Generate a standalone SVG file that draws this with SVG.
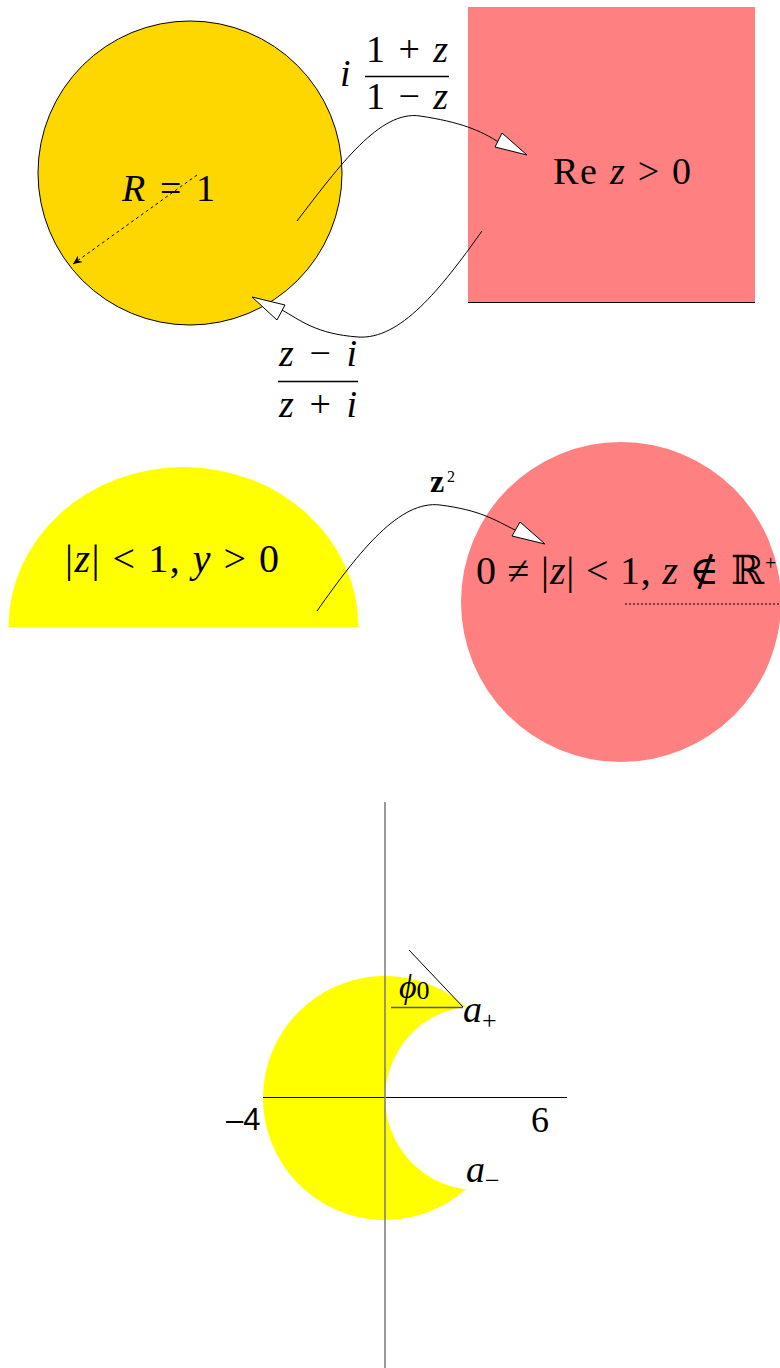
<svg xmlns="http://www.w3.org/2000/svg" width="780" height="1368" viewBox="0 0 780 1368">
<style>
.m{font-family:"Liberation Serif","DejaVu Serif",serif;fill:#000}
.i{font-style:italic}
.c{fill:none;stroke:#000;stroke-width:1}
.h{fill:#fff;stroke:#000;stroke-width:1}
</style>
<defs>
<marker id="sm" markerWidth="10" markerHeight="8" refX="9" refY="4" orient="auto" markerUnits="userSpaceOnUse">
<path d="M0,0 L9,4 L0,8 L3,4 Z" fill="#000"/>
</marker>
</defs>
<rect width="780" height="1368" fill="#fff"/>

<g id="disk">
<circle cx="190" cy="173" r="152" fill="#FFD700" stroke="#000" stroke-width="1"/>
<text class="m" x="122" y="201" font-size="38" textLength="93" lengthAdjust="spacing"><tspan class="i">R</tspan> = 1</text>
<line x1="197" y1="175" x2="73" y2="264" stroke="#000" stroke-width="1" stroke-dasharray="3,3" marker-end="url(#sm)"/>
</g>

<g id="halfplane">
<rect x="468" y="7" width="287" height="295" fill="#FF8080"/>
<line x1="468" y1="302.5" x2="755" y2="302.5" stroke="#000" stroke-width="1"/>
<text class="m" x="553" y="184" font-size="38" textLength="138" lengthAdjust="spacing">Re <tspan class="i">z</tspan> &gt; 0</text>
</g>

<g id="halfdisk">
<path d="M8.5,627 A175,160 0 0,1 358.5,627 Z" fill="#FFFF00"/>
<text class="m" x="65" y="572" font-size="40" textLength="214" lengthAdjust="spacing">|<tspan class="i">z</tspan>| &lt; 1, <tspan class="i">y</tspan> &gt; 0</text>
</g>

<g id="slitdisk">
<circle cx="621" cy="602" r="160" fill="#FF8080"/>
<line x1="625" y1="604" x2="780" y2="604" stroke="#000" stroke-width="1.2" stroke-dasharray="2,2"/>
<text class="m" x="476" y="584" font-size="40" textLength="288" lengthAdjust="spacing">0 ≠ |<tspan class="i">z</tspan>| &lt; 1, <tspan class="i">z</tspan> ∉ ℝ</text>
<text class="m" x="765" y="570" font-size="20">+</text>
</g>

<g id="crescent">
<path d="M465.9,1006.7 A122,122 0 1,0 465.9,1189.3 A92,92 0 0,1 465.9,1006.7 Z" fill="#FFFF00"/>
<line x1="263" y1="1097.5" x2="567" y2="1097.5" stroke="#000" stroke-width="1"/>
<line x1="385" y1="802" x2="385" y2="1368" stroke="#808080" stroke-width="1.6"/>
<line x1="391" y1="1007.5" x2="463" y2="1007.5" stroke="#555" stroke-width="1.6"/>
<line x1="409" y1="950" x2="463" y2="1007" stroke="#000" stroke-width="1"/>
<text class="m" x="399" y="998" font-size="34"><tspan class="i">ϕ</tspan><tspan font-size="26" dy="1">0</tspan></text>
<text class="m" x="463" y="1022" font-size="38"><tspan class="i">a</tspan><tspan font-size="26" dy="7">+</tspan></text>
<text class="m" x="466" y="1182" font-size="38"><tspan class="i">a</tspan><tspan font-size="26" dy="7">−</tspan></text>
<text x="226" y="1130" font-family="Liberation Sans, Arial, sans-serif" font-size="31">–4</text>
<text class="m" x="531" y="1132" font-size="36">6</text>
</g>

<g id="connectors">
<path class="c" d="M297,221 C340,165 380,110 420,116 S480,130 500,143"/>
<polygon class="h" points="527,155 495,147 502,133"/>
<path class="c" d="M482,231 C440,290 400,340 358,337 S300,320 282,310"/>
<polygon class="h" points="252,297 277,320 285,305"/>
<path class="c" d="M317,611 C360,550 400,500 440,505 S495,520 515,530"/>
<polygon class="h" points="545,544 512,536 520,522"/>
</g>

<g id="labels">
<text class="m i" x="340" y="86" font-size="38">i</text>
<text class="m" x="366" y="62" font-size="38" textLength="82" lengthAdjust="spacing">1 + <tspan class="i">z</tspan></text>
<line x1="365" y1="76.5" x2="449" y2="76.5" stroke="#000" stroke-width="1.4"/>
<text class="m" x="366" y="109" font-size="38" textLength="82" lengthAdjust="spacing">1 − <tspan class="i">z</tspan></text>
<text class="m" x="279" y="366" font-size="38" textLength="78" lengthAdjust="spacing"><tspan class="i">z</tspan> − <tspan class="i">i</tspan></text>
<line x1="278" y1="381.5" x2="358" y2="381.5" stroke="#000" stroke-width="1.4"/>
<text class="m" x="279" y="417" font-size="38" textLength="78" lengthAdjust="spacing"><tspan class="i">z</tspan> + <tspan class="i">i</tspan></text>
<text class="m" x="430" y="492" font-size="32" font-weight="bold">z</text>
<text class="m" x="447" y="482" font-size="16">2</text>
</g>
</svg>
